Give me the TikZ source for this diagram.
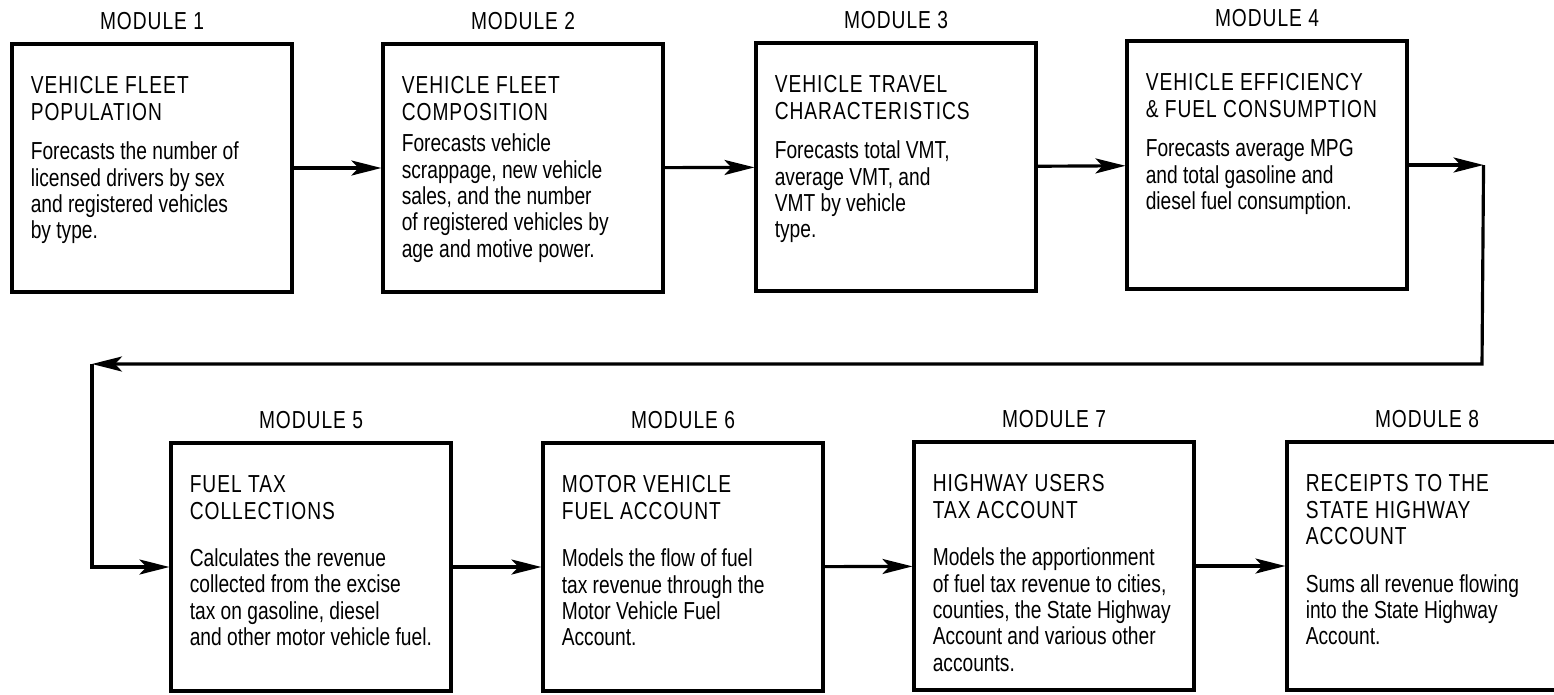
\documentclass[tikz,border=0pt]{standalone}
\usepackage{fontspec}
\usepackage{tikz}
\usetikzlibrary{arrows.meta,positioning}
\newfontfamily\bodyfont[FakeStretch=0.78]{Liberation Sans}
\newfontfamily\headfont[FakeStretch=0.78,LetterSpace=4]{Liberation Sans}

\begin{document}
\begin{tikzpicture}[x=0.02cm,y=-0.02cm,>=Stealth,
  module/.style={draw,line width=1.8pt,minimum width=5.6cm,minimum height=4.96cm,inner sep=0pt},
  modtext/.style={anchor=north west,inner sep=0pt,align=left,font=\bodyfont\fontsize{14}{15}\selectfont},
  modlabel/.style={inner sep=0pt,font=\headfont\fontsize{14}{15}\selectfont},
  flow/.style={-{Stealth[length=0.6cm,width=0.3cm,inset=0.14cm]},line width=1.8pt}]
  \useasboundingbox (0,0) rectangle (1554,694);

  % top row
  \node[module] (m1) at (152,168) {};
  \node[module] (m2) at (523,168) {};
  \node[module] (m3) at (896,167) {};
  \node[module] (m4) at (1267,165) {};
  % bottom row
  \node[module] (m5) at (311,567) {};
  \node[module] (m6) at (683,567) {};
  \node[module] (m7) at (1054,566) {};
  \node[module] (m8) at (1427,566) {};

  \node[modlabel,above=0.24cm of m1] (l1) {MODULE 1};
  \node[modlabel,above=0.24cm of m2] (l2) {MODULE 2};
  \node[modlabel,above=0.24cm of m3] (l3) {MODULE 3};
  \node[modlabel,above=0.24cm of m4] (l4) {MODULE 4};
  \node[modlabel,above=0.24cm of m5] (l5) {MODULE 5};
  \node[modlabel,above=0.24cm of m6] (l6) {MODULE 6};
  \node[modlabel,above=0.24cm of m7] (l7) {MODULE 7};
  \node[modlabel,above=0.24cm of m8] (l8) {MODULE 8};

  \node[modtext] (t1) at ([shift={(0.4cm,-0.68cm)}]m1.north west)
    {\headfont VEHICLE FLEET\\\headfont POPULATION\\[0.26cm]\bodyfont
     Forecasts the number of\\licensed drivers by sex\\and registered vehicles\\by type.};
  \node[modtext] (t2) at ([shift={(0.4cm,-0.68cm)}]m2.north west)
    {\headfont VEHICLE FLEET\\\headfont COMPOSITION\\[0.1cm]\bodyfont
     Forecasts vehicle\\scrappage, new vehicle\\sales, and the number\\of registered vehicles by\\age and motive power.};
  \node[modtext] (t3) at ([shift={(0.4cm,-0.68cm)}]m3.north west)
    {\headfont VEHICLE TRAVEL\\\headfont CHARACTERISTICS\\[0.26cm]\bodyfont
     Forecasts total VMT,\\average VMT, and\\VMT by vehicle\\type.};
  \node[modtext] (t4) at ([shift={(0.4cm,-0.68cm)}]m4.north west)
    {\headfont VEHICLE EFFICIENCY\\\headfont \& FUEL CONSUMPTION\\[0.26cm]\bodyfont
     Forecasts average MPG\\and total gasoline and\\diesel fuel consumption.};
  \node[modtext] (t5) at ([shift={(0.4cm,-0.68cm)}]m5.north west)
    {\headfont FUEL TAX\\\headfont COLLECTIONS\\[0.42cm]\bodyfont
     Calculates the revenue\\collected from the excise\\tax on gasoline, diesel\\and other motor vehicle fuel.};
  \node[modtext] (t6) at ([shift={(0.4cm,-0.68cm)}]m6.north west)
    {\headfont MOTOR VEHICLE\\\headfont FUEL ACCOUNT\\[0.42cm]\bodyfont
     Models the flow of fuel\\tax revenue through the\\Motor Vehicle Fuel\\Account.};
  \node[modtext] (t7) at ([shift={(0.4cm,-0.68cm)}]m7.north west)
    {\headfont HIGHWAY USERS\\\headfont TAX ACCOUNT\\[0.42cm]\bodyfont
     Models the apportionment\\of fuel tax revenue to cities,\\counties, the State Highway\\Account and various other\\accounts.};
  \node[modtext] (t8) at ([shift={(0.4cm,-0.68cm)}]m8.north west)
    {\headfont RECEIPTS TO THE\\\headfont STATE HIGHWAY\\\headfont ACCOUNT\\[0.42cm]\bodyfont
     Sums all revenue flowing\\into the State Highway\\Account.};

  % arrows along the rows
  \draw[flow] (m1) -- (m2);
  \draw[flow] (m2) -- (m3);
  \draw[flow] (m3) -- (m4);
  \draw[flow] (m5) -- (m6);
  \draw[flow] (m6) -- (m7);
  \draw[flow] (m7) -- (m8);

  % return line from module 4 to module 5
  \coordinate[right=1.5cm of m4.east] (rt);
  \coordinate (rb) at (1482,364);
  \coordinate (lt) at (92,364);
  \coordinate (lb) at (lt |- m5.west);
  \draw[flow] (m4) -- (rt);
  \draw[flow] (rt) -- (rb) -- (lt);
  \draw[flow] (lt) -- (lb) -- (m5);
\end{tikzpicture}
\end{document}
